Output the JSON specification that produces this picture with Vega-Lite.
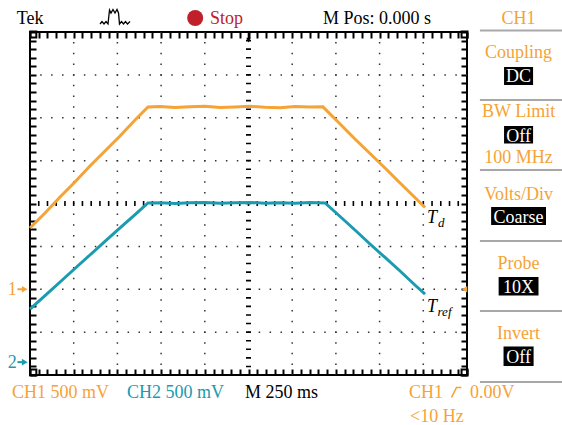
{
  "$schema": "https://vega.github.io/schema/vega-lite/v6.json",
  "width": 437,
  "height": 343,
  "autosize": {"type": "none"},
  "padding": {"left": 30, "top": 32, "right": 95, "bottom": 50},
  "background": "white",
  "data": {"values": [{}]},
  "config": {
    "view": {"stroke": "black", "strokeWidth": 2},
    "font": "Liberation Serif",
    "text": {"font": "Liberation Serif", "fontSize": 18},
    "axis": {"labels": false, "ticks": false, "domain": false, "grid": false, "title": null}
  },
  "datasets": {
    "ch1": [
      {"t": -1250, "div": -0.571}, {"t": -1164, "div": -0.222}, {"t": -1078, "div": 0.152},
      {"t": -993, "div": 0.501}, {"t": -907, "div": 0.875}, {"t": -821, "div": 1.224},
      {"t": -735, "div": 1.574}, {"t": -649, "div": 1.948}, {"t": -575, "div": 2.251},
      {"t": -506, "div": 2.262}, {"t": -420, "div": 2.238}, {"t": -335, "div": 2.255},
      {"t": -249, "div": 2.268}, {"t": -163, "div": 2.241}, {"t": -77, "div": 2.252},
      {"t": 9, "div": 2.266}, {"t": 94, "div": 2.247}, {"t": 180, "div": 2.236},
      {"t": 266, "div": 2.262}, {"t": 352, "div": 2.249}, {"t": 426, "div": 2.255},
      {"t": 524, "div": 1.854}, {"t": 609, "div": 1.504}, {"t": 695, "div": 1.166},
      {"t": 781, "div": 0.828}, {"t": 867, "div": 0.478}, {"t": 952, "div": 0.14},
      {"t": 1010, "div": -0.093}
    ],
    "ch2": [
      {"t": -1250, "div": -2.461}, {"t": -1164, "div": -2.146}, {"t": -1078, "div": -1.831},
      {"t": -993, "div": -1.516}, {"t": -907, "div": -1.201}, {"t": -821, "div": -0.886},
      {"t": -735, "div": -0.571}, {"t": -649, "div": -0.257}, {"t": -575, "div": 0.012},
      {"t": -506, "div": 0.02}, {"t": -420, "div": 0.002}, {"t": -335, "div": 0.016},
      {"t": -249, "div": 0.024}, {"t": -163, "div": 0.004}, {"t": -77, "div": 0.015},
      {"t": 9, "div": 0.026}, {"t": 94, "div": 0.008}, {"t": 180, "div": 0.018},
      {"t": 266, "div": 0.003}, {"t": 352, "div": 0.021}, {"t": 438, "div": 0.012},
      {"t": 524, "div": -0.303}, {"t": 609, "div": -0.618}, {"t": 695, "div": -0.945},
      {"t": 781, "div": -1.259}, {"t": 867, "div": -1.574}, {"t": 952, "div": -1.901},
      {"t": 1010, "div": -2.111}
    ],
    "vgrid": [{"t": -1000}, {"t": -750}, {"t": -500}, {"t": -250}, {"t": 250}, {"t": 500}, {"t": 750}, {"t": 1000}],
    "hgrid": [{"div": -3}, {"div": -2}, {"div": -1}, {"div": 1}, {"div": 2}, {"div": 3}],
    "corners": [
      {"t": -1231, "div": 3.942}, {"t": 1236, "div": 3.942},
      {"t": -1231, "div": -3.942}, {"t": 1236, "div": -3.942}
    ],
    "icon": [
      {"t": -849.5, "div": 4.187}, {"t": -838.1, "div": 4.245}, {"t": -826.6, "div": 4.187},
      {"t": -815.2, "div": 4.245}, {"t": -803.7, "div": 4.187}, {"t": -795.2, "div": 4.513},
      {"t": -786.6, "div": 4.443}, {"t": -775.2, "div": 4.525}, {"t": -763.7, "div": 4.443},
      {"t": -752.3, "div": 4.525}, {"t": -743.7, "div": 4.443}, {"t": -738.0, "div": 4.187},
      {"t": -726.5, "div": 4.245}, {"t": -715.1, "div": 4.187}, {"t": -703.7, "div": 4.245},
      {"t": -692.2, "div": 4.187}, {"t": -677.9, "div": 4.245}
    ],
    "edge": [
      {"t": 1161, "div": -4.525}, {"t": 1190, "div": -4.29}, {"t": 1218, "div": -4.29}
    ],
    "markers": [
      {"label": "1", "div": -2.0, "base": -2.134},
      {"label": "2", "div": -3.7, "base": -3.837}
    ],
    "panelSep": [{"div": 4.035}, {"div": 2.414}, {"div": 0.781}, {"div": -0.875}, {"div": -2.507}, {"div": -4.163}],
    "panelLabels": [
      {"label": "CH1", "div": 4.187},
      {"label": "Coupling", "div": 3.405},
      {"label": "BW Limit", "div": 2.01},
      {"label": "100 MHz", "div": 0.933},
      {"label": "Volts/Div", "div": 0.082},
      {"label": "Probe", "div": -1.535},
      {"label": "Invert", "div": -3.167}
    ],
    "panelValues": [
      {"label": "DC", "t0": 1462, "t1": 1628, "top": 3.184, "bottom": 2.764, "base": 2.841},
      {"label": "Off", "t0": 1462, "t1": 1628, "top": 1.808, "bottom": 1.399, "base": 1.441},
      {"label": "Coarse", "t0": 1388, "t1": 1702, "top": -0.082, "bottom": -0.502, "base": -0.462},
      {"label": "10X", "t0": 1431, "t1": 1659, "top": -1.714, "bottom": -2.146, "base": -2.095},
      {"label": "Off", "t0": 1459, "t1": 1631, "top": -3.335, "bottom": -3.79, "base": -3.727}
    ]
  },
  "layer": [
    {
      "data": {"name": "vgrid"},
      "mark": {"type": "rule", "color": "#333333", "strokeWidth": 1.5, "strokeDash": [1.5, 9.22], "strokeDashOffset": 0.75},
      "encoding": {
        "x": {"field": "t", "type": "quantitative", "scale": {"domain": [-1250, 1250], "nice": false}, "axis": null}
      }
    },
    {
      "data": {"name": "hgrid"},
      "mark": {"type": "rule", "color": "#333333", "strokeWidth": 1.5, "strokeDash": [1.5, 9.425], "strokeDashOffset": 0.75},
      "encoding": {
        "y": {"field": "div", "type": "quantitative", "scale": {"domain": [-4, 4], "nice": false}, "axis": null}
      }
    },
    {
      "mark": {"type": "rule", "color": "black", "strokeWidth": 5, "strokeDash": [1.6, 6.975], "strokeDashOffset": 0.8},
      "encoding": {"x": {"datum": 0, "type": "quantitative", "axis": null}}
    },
    {
      "mark": {"type": "rule", "color": "black", "strokeWidth": 5, "strokeDash": [1.6, 7.14], "strokeDashOffset": 0.8},
      "encoding": {"y": {"datum": 0, "type": "quantitative", "axis": null}}
    },
    {
      "data": {"name": "corners"},
      "mark": {"type": "point", "shape": "square", "filled": false, "size": 36, "strokeWidth": 2, "color": "black", "opacity": 1},
      "encoding": {"x": {"field": "t", "type": "quantitative", "axis": null}, "y": {"field": "div", "type": "quantitative", "axis": null}}
    },
    {
      "data": {"name": "ch1"},
      "mark": {"type": "line", "color": "#f5a336", "strokeWidth": 3},
      "encoding": {
        "x": {
          "field": "t", "type": "quantitative",
          "axis": {
            "orient": "bottom", "title": null, "labels": false, "domain": false, "grid": false, "ticks": true,
            "tickSize": -6, "tickWidth": 2, "tickColor": "black",
            "values": [-1250,-1200,-1150,-1100,-1050,-1000,-950,-900,-850,-800,-750,-700,-650,-600,-550,-500,-450,-400,-350,-300,-250,-200,-150,-100,-50,0,50,100,150,200,250,300,350,400,450,500,550,600,650,700,750,800,850,900,950,1000,1050,1100,1150,1200,1250]
          }
        },
        "y": {
          "field": "div", "type": "quantitative",
          "axis": {
            "orient": "left", "title": null, "labels": false, "domain": false, "grid": false, "ticks": true,
            "tickSize": -6, "tickWidth": 2, "tickColor": "black",
            "values": [-4,-3.8,-3.6,-3.4,-3.2,-3,-2.8,-2.6,-2.4,-2.2,-2,-1.8,-1.6,-1.4,-1.2,-1,-0.8,-0.6,-0.4,-0.2,0,0.2,0.4,0.6,0.8,1,1.2,1.4,1.6,1.8,2,2.2,2.4,2.6,2.8,3,3.2,3.4,3.6,3.8,4]
          }
        }
      }
    },
    {
      "data": {"name": "ch2"},
      "mark": {"type": "line", "color": "#1a9bb0", "strokeWidth": 3},
      "encoding": {
        "x": {
          "field": "t", "type": "quantitative",
          "axis": {
            "orient": "top", "title": null, "labels": false, "domain": false, "grid": false, "ticks": true,
            "tickSize": -6, "tickWidth": 2, "tickColor": "black",
            "values": [-1250,-1200,-1150,-1100,-1050,-1000,-950,-900,-850,-800,-750,-700,-650,-600,-550,-500,-450,-400,-350,-300,-250,-200,-150,-100,-50,0,50,100,150,200,250,300,350,400,450,500,550,600,650,700,750,800,850,900,950,1000,1050,1100,1150,1200,1250]
          }
        },
        "y": {
          "field": "div", "type": "quantitative",
          "axis": {
            "orient": "right", "title": null, "labels": false, "domain": false, "grid": false, "ticks": true,
            "tickSize": -6, "tickWidth": 2, "tickColor": "black",
            "values": [-4,-3.8,-3.6,-3.4,-3.2,-3,-2.8,-2.6,-2.4,-2.2,-2,-1.8,-1.6,-1.4,-1.2,-1,-0.8,-0.6,-0.4,-0.2,0,0.2,0.4,0.6,0.8,1,1.2,1.4,1.6,1.8,2,2.2,2.4,2.6,2.8,3,3.2,3.4,3.6,3.8,4]
          }
        }
      }
    },
    {
      "mark": {"type": "text", "fontStyle": "italic", "align": "left", "dx": 2, "dy": 15.5, "baseline": "alphabetic", "fontSize": 18, "color": "black"},
      "encoding": {"x": {"datum": 1010, "axis": null}, "y": {"datum": -0.093, "axis": null}, "text": {"value": "T"}}
    },
    {
      "mark": {"type": "text", "fontStyle": "italic", "align": "left", "dx": 13, "dy": 19.5, "baseline": "alphabetic", "fontSize": 13, "color": "black"},
      "encoding": {"x": {"datum": 1010, "axis": null}, "y": {"datum": -0.093, "axis": null}, "text": {"value": "d"}}
    },
    {
      "mark": {"type": "text", "fontStyle": "italic", "align": "left", "dx": 2, "dy": 18, "baseline": "alphabetic", "fontSize": 18, "color": "black"},
      "encoding": {"x": {"datum": 1010, "axis": null}, "y": {"datum": -2.111, "axis": null}, "text": {"value": "T"}}
    },
    {
      "mark": {"type": "text", "fontStyle": "italic", "align": "left", "dx": 12.5, "dy": 22, "baseline": "alphabetic", "fontSize": 13, "color": "black"},
      "encoding": {"x": {"datum": 1010, "axis": null}, "y": {"datum": -2.111, "axis": null}, "text": {"value": "ref"}}
    },
    {
      "mark": {"type": "text", "align": "left", "baseline": "alphabetic", "color": "black"},
      "encoding": {"x": {"datum": -1326, "axis": null}, "y": {"datum": 4.187, "axis": null}, "text": {"value": "Tek"}}
    },
    {
      "data": {"name": "icon"},
      "mark": {"type": "line", "color": "black", "strokeWidth": 1.3},
      "encoding": {"x": {"field": "t", "type": "quantitative", "axis": null}, "y": {"field": "div", "type": "quantitative", "axis": null}}
    },
    {
      "mark": {"type": "point", "shape": "circle", "filled": true, "size": 256, "color": "#c0202a", "opacity": 1},
      "encoding": {"x": {"datum": -305, "axis": null}, "y": {"datum": 4.326, "axis": null}}
    },
    {
      "mark": {"type": "text", "align": "left", "baseline": "alphabetic", "color": "#c0202a"},
      "encoding": {"x": {"datum": -220, "axis": null}, "y": {"datum": 4.187, "axis": null}, "text": {"value": "Stop"}}
    },
    {
      "mark": {"type": "text", "align": "left", "baseline": "alphabetic", "color": "black"},
      "encoding": {"x": {"datum": 426, "axis": null}, "y": {"datum": 4.187, "axis": null}, "text": {"value": "M Pos: 0.000 s"}}
    },
    {
      "mark": {"type": "point", "shape": "arrow", "filled": true, "size": 120, "angle": 180, "color": "black", "opacity": 1},
      "encoding": {"x": {"datum": 0, "axis": null}, "y": {"datum": 3.88, "axis": null}}
    },
    {
      "data": {"name": "panelSep"},
      "mark": {"type": "rule", "color": "#a8a8a8", "strokeWidth": 2},
      "encoding": {"x": {"datum": 1324, "axis": null}, "x2": {"datum": 1800}, "y": {"field": "div", "type": "quantitative", "axis": null}}
    },
    {
      "data": {"name": "panelLabels"},
      "mark": {"type": "text", "align": "center", "baseline": "alphabetic", "color": "#f5a336"},
      "encoding": {"x": {"datum": 1545, "axis": null}, "y": {"field": "div", "type": "quantitative", "axis": null}, "text": {"field": "label"}}
    },
    {
      "data": {"name": "panelValues"},
      "mark": {"type": "rect", "color": "black"},
      "encoding": {
        "x": {"field": "t0", "type": "quantitative", "axis": null}, "x2": {"field": "t1"},
        "y": {"field": "top", "type": "quantitative", "axis": null}, "y2": {"field": "bottom"}
      }
    },
    {
      "data": {"name": "panelValues"},
      "mark": {"type": "text", "align": "center", "baseline": "alphabetic", "color": "white"},
      "encoding": {"x": {"datum": 1545, "axis": null}, "y": {"field": "base", "type": "quantitative", "axis": null}, "text": {"field": "label"}}
    },
    {
      "data": {"name": "markers"},
      "layer": [
        {
          "mark": {"type": "text", "align": "left", "baseline": "alphabetic"},
          "encoding": {
            "x": {"datum": -1378, "axis": null},
            "y": {"field": "base", "type": "quantitative", "axis": null},
            "text": {"field": "label"},
            "color": {"field": "label", "type": "nominal", "scale": {"domain": ["1", "2"], "range": ["#f5a336", "#1a9bb0"]}, "legend": null}
          }
        },
        {
          "mark": {"type": "rule", "strokeWidth": 2},
          "encoding": {
            "x": {"datum": -1322, "axis": null}, "x2": {"datum": -1285},
            "y": {"field": "div", "type": "quantitative", "axis": null},
            "color": {"field": "label", "type": "nominal", "legend": null}
          }
        },
        {
          "mark": {"type": "point", "shape": "triangle-right", "filled": true, "size": 45, "opacity": 1},
          "encoding": {
            "x": {"datum": -1280, "axis": null},
            "y": {"field": "div", "type": "quantitative", "axis": null},
            "color": {"field": "label", "type": "nominal", "legend": null}
          }
        }
      ]
    },
    {
      "mark": {"type": "point", "shape": "triangle-left", "filled": true, "size": 40, "color": "#f5a336", "opacity": 1},
      "encoding": {"x": {"datum": 1236, "axis": null}, "y": {"datum": -2, "axis": null}}
    },
    {
      "mark": {"type": "rule", "strokeWidth": 2, "color": "#f5a336"},
      "encoding": {"x": {"datum": 1236, "axis": null}, "x2": {"datum": 1250}, "y": {"datum": -2, "axis": null}}
    },
    {
      "mark": {"type": "text", "align": "left", "baseline": "alphabetic", "color": "#f5a336"},
      "encoding": {"x": {"datum": -1353, "axis": null}, "y": {"datum": -4.544, "axis": null}, "text": {"value": "CH1 500 mV"}}
    },
    {
      "mark": {"type": "text", "align": "left", "baseline": "alphabetic", "color": "#1a9bb0"},
      "encoding": {"x": {"datum": -695, "axis": null}, "y": {"datum": -4.544, "axis": null}, "text": {"value": "CH2 500 mV"}}
    },
    {
      "mark": {"type": "text", "align": "left", "baseline": "alphabetic", "color": "black"},
      "encoding": {"x": {"datum": -20, "axis": null}, "y": {"datum": -4.544, "axis": null}, "text": {"value": "M 250 ms"}}
    },
    {
      "mark": {"type": "text", "align": "left", "baseline": "alphabetic", "color": "#f5a336"},
      "encoding": {"x": {"datum": 918, "axis": null}, "y": {"datum": -4.544, "axis": null}, "text": {"value": "CH1"}}
    },
    {
      "data": {"name": "edge"},
      "mark": {"type": "line", "color": "#f5a336", "strokeWidth": 1.6},
      "encoding": {"x": {"field": "t", "type": "quantitative", "axis": null}, "y": {"field": "div", "type": "quantitative", "axis": null}}
    },
    {
      "mark": {"type": "text", "align": "left", "baseline": "alphabetic", "color": "#f5a336"},
      "encoding": {"x": {"datum": 1267, "axis": null}, "y": {"datum": -4.544, "axis": null}, "text": {"value": "0.00V"}}
    },
    {
      "mark": {"type": "text", "align": "left", "baseline": "alphabetic", "color": "#f5a336"},
      "encoding": {"x": {"datum": 924, "axis": null}, "y": {"datum": -5.085, "axis": null}, "text": {"value": "<10 Hz"}}
    }
  ]
}
